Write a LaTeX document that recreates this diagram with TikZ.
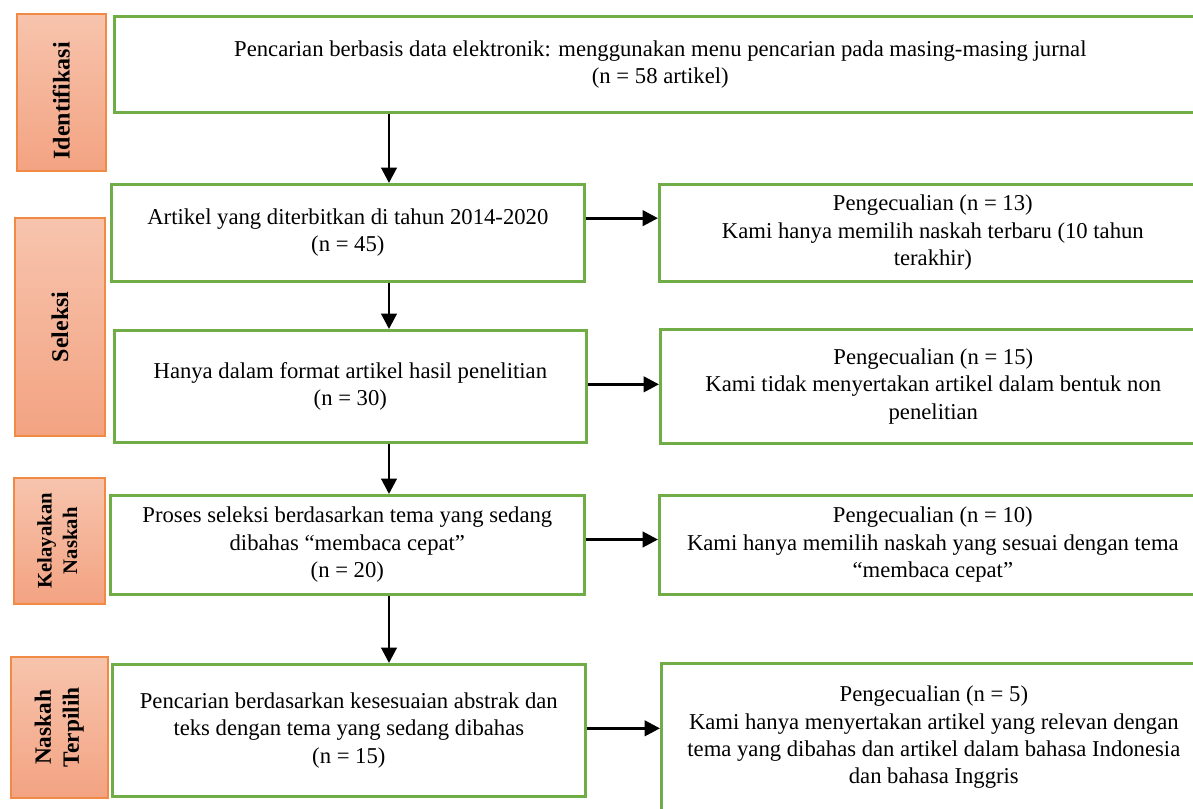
\documentclass[tikz,border=0pt]{standalone}
\usepackage{fontspec}
\setmainfont{Liberation Serif}
\usepackage{graphicx}
\usetikzlibrary{arrows.meta,positioning,calc}
\definecolor{Leaf}{HTML}{70AD47}
\definecolor{PeachTop}{HTML}{F7C4AD}
\definecolor{PeachBot}{HTML}{F3A382}
\definecolor{Rust}{HTML}{F08A45}
\tikzset{
  box/.style={draw=Leaf, line width=2pt, fill=white, align=center,
              inner sep=0pt, anchor=north west, font=\fontsize{17}{20.5}\selectfont},
  stage/.style={draw=Rust, line width=1.2pt, top color=PeachTop, bottom color=PeachBot,
                inner sep=0pt, anchor=north west, font=\fontsize{18}{21}\selectfont\bfseries},
  arrow/.style={-{Triangle[length=11.5pt,width=11.5pt]}, line width=2.2pt, draw=black},
}

\begin{document}
\begin{tikzpicture}[x=0.75pt,y=-0.75pt]
  \path[use as bounding box, clip] (0,0) rectangle (1193,809);
  % stage labels on the left
  \node[stage, minimum width=66.75pt, minimum height=117.75pt] (s1) at (16,13) {\rotatebox{90}{Identifikasi\hspace{13pt}}};
  \node[stage, minimum width=67.5pt, minimum height=163.5pt] (s2) at (14,217) {\rotatebox{90}{Seleksi}};
  \node[stage, minimum width=68.25pt, minimum height=94.5pt, font=\fontsize{15.5}{19}\selectfont\bfseries] (s3) at (13,477)
    {\rotatebox{90}{\begin{tabular}{@{}c@{}}Kelayakan\\Naskah\end{tabular}}};
  \node[stage, minimum width=72.75pt, minimum height=105.75pt, font=\fontsize{17.5}{21}\selectfont\bfseries] (s4) at (10,656)
    {\rotatebox{90}{\begin{tabular}{@{}c@{}}Naskah\\Terpilih\end{tabular}}};
  % main column
  \node[box, minimum width=819pt, minimum height=72pt] (b1) at (113,15)
    {Pencarian berbasis data elektronik: menggunakan menu pencarian pada masing-masing jurnal\\(n = 58 artikel)};
  \node[box, minimum width=354.75pt, minimum height=72.75pt] (b2) at (110,183)
    {Artikel yang diterbitkan di tahun 2014-2020\\(n = 45)};
  \node[box, minimum width=354pt, minimum height=84pt] (b3) at (113,329)
    {Hanya dalam format artikel hasil penelitian\\(n = 30)};
  \node[box, minimum width=355.5pt, minimum height=74.25pt] (b4) at (109,494)
    {Proses seleksi berdasarkan tema yang sedang\\dibahas ``membaca cepat''\\(n = 20)};
  \node[box, minimum width=354.75pt, minimum height=99pt] (b5) at (111,663)
    {Pencarian berdasarkan kesesuaian abstrak dan\\teks dengan tema yang sedang dibahas\\(n = 15)};
  % exclusions
  \node[box, minimum width=410.25pt, minimum height=72.75pt] (r1) at (658,183)
    {Pengecualian (n = 13)\\Kami hanya memilih naskah terbaru (10 tahun\\terakhir)};
  \node[box, minimum width=409.5pt, minimum height=85.5pt] (r2) at (659,328)
    {Pengecualian (n = 15)\\Kami tidak menyertakan artikel dalam bentuk non\\penelitian};
  \node[box, minimum width=410.25pt, minimum height=74.25pt] (r3) at (658,494)
    {Pengecualian (n = 10)\\Kami hanya memilih naskah yang sesuai dengan tema\\``membaca cepat''};
  \node[box, minimum width=408.75pt, minimum height=111pt] (r4) at (660,662)
    {Pengecualian (n = 5)\\Kami hanya menyertakan artikel yang relevan dengan\\tema yang dibahas dan artikel dalam bahasa Indonesia\\dan bahasa Inggris};
  % connectors
  \coordinate (ax) at (389,0);
  \draw[arrow] (b1.south -| ax) -- (b2.north -| ax);
  \draw[arrow] (b2.south -| ax) -- (b3.north -| ax);
  \draw[arrow] (b3.south -| ax) -- (b4.north -| ax);
  \draw[arrow] (b4.south -| ax) -- (b5.north -| ax);
  \draw[arrow] ([yshift=11pt]b2.east) -- ([yshift=11pt]b2.east -| r1.west);
  \draw[arrow] ([yshift=1.5pt]b3.east) -- ([yshift=1.5pt]b3.east -| r2.west);
  \draw[arrow] ([yshift=4pt]b4.east) -- ([yshift=4pt]b4.east -| r3.west);
  \draw[arrow] ([yshift=1.5pt]b5.east) -- ([yshift=1.5pt]b5.east -| r4.west);
\end{tikzpicture}
\end{document}
